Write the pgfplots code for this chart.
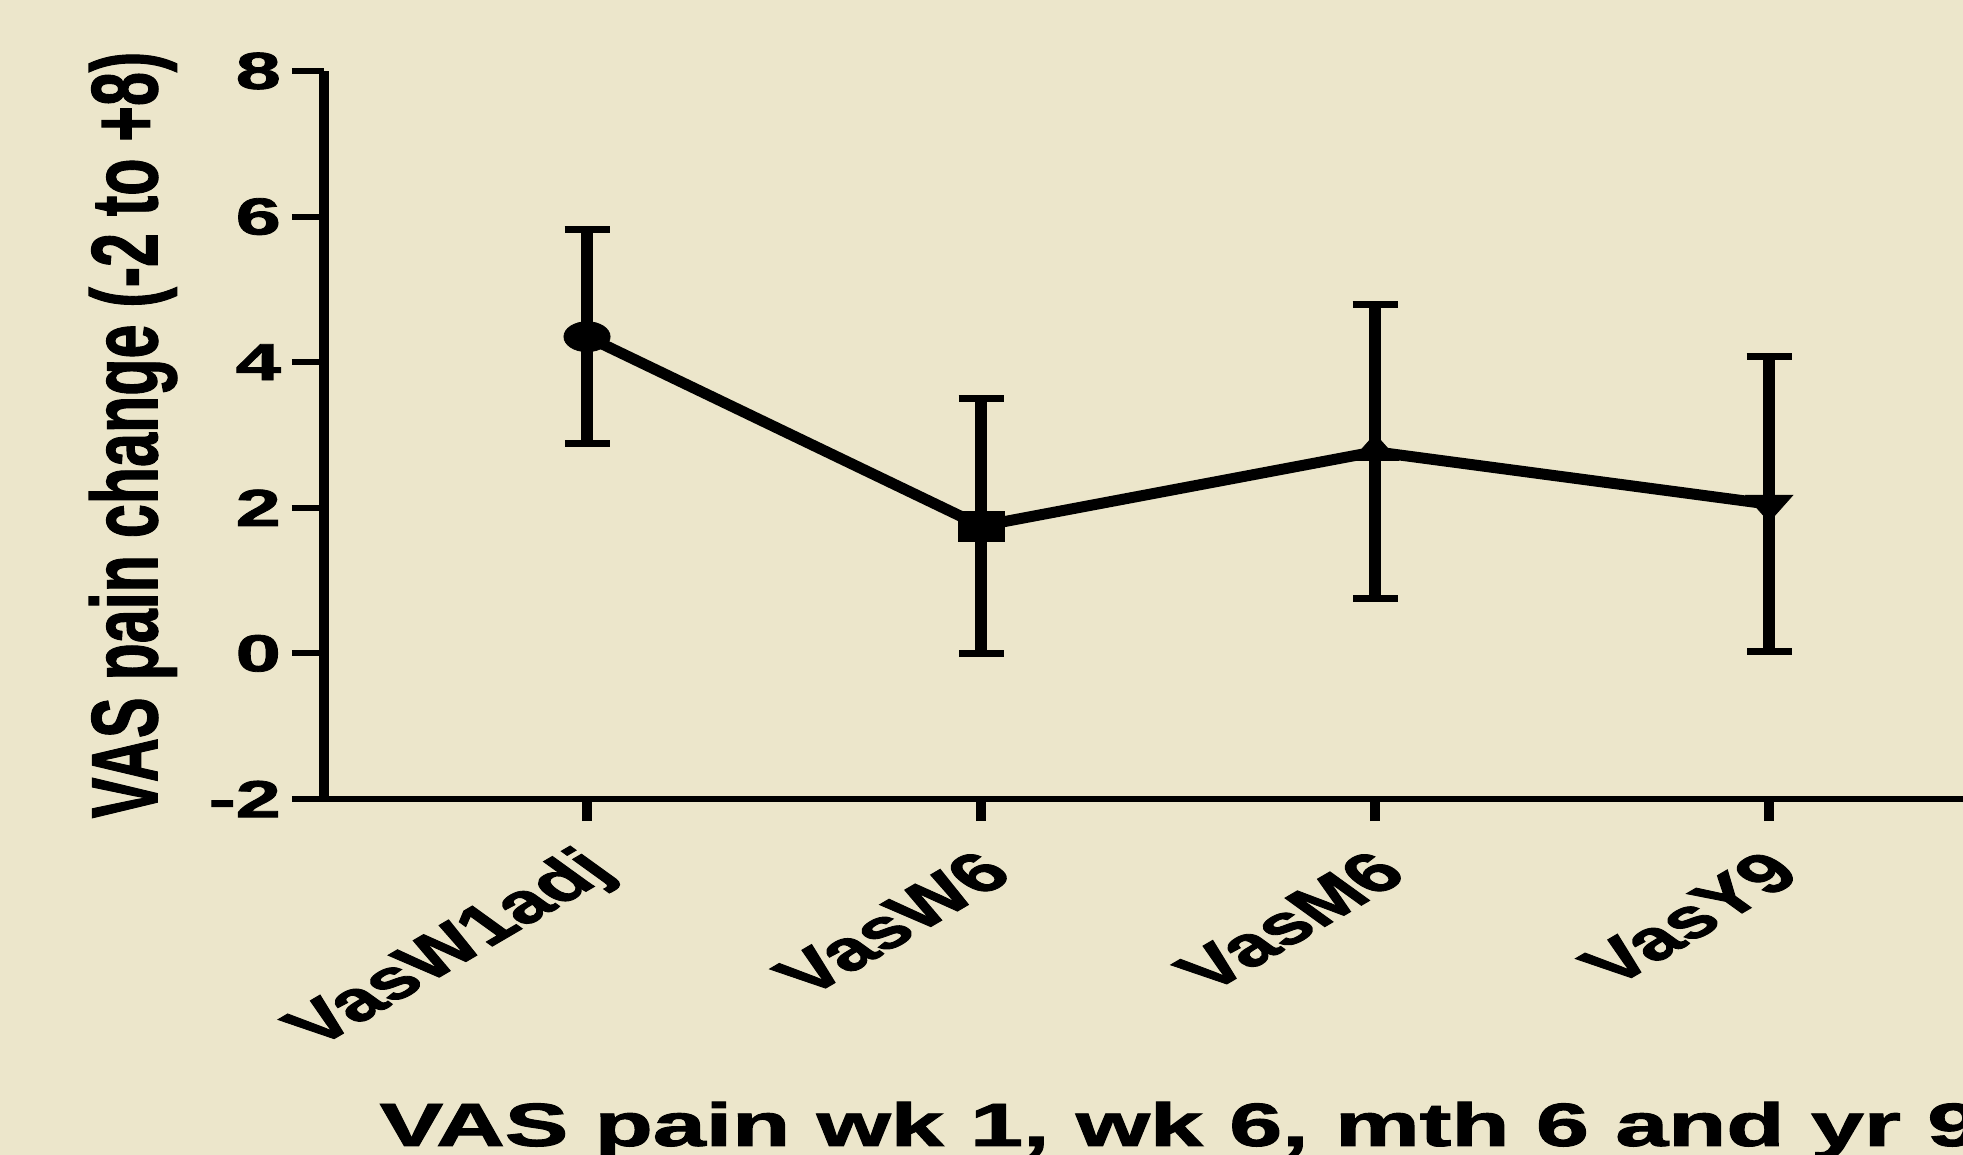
\documentclass[border=0pt]{standalone}
\usepackage{fontspec}
\setmainfont{Liberation Sans}[BoldFeatures={FakeBold=1.5}]
\usepackage{pgfplots}
\pgfplotsset{compat=1.18}
\definecolor{bg}{RGB}{236,230,203}
\pgfplotstableread{
x y e
0 4.35 1.47
1 1.75 1.75
2 2.77 2.02
3 2.05 2.03
}\vasdata
\begin{document}
\begin{tikzpicture}
\path[use as bounding box] (0,0) rectangle (981.5pt,577.5pt);
\fill[bg] (0,0) rectangle (981.5pt,577.5pt);
\clip (0,0) rectangle (981.5pt,577.5pt);
\begin{axis}[
  at={(162pt,178pt)}, anchor=south west,
  scale only axis, width=819.5pt, height=364pt,
  xmin=-0.6675, xmax=3.492, ymin=-2, ymax=8,
  axis lines=left, axis line style={-, black},
  x axis line style={line width=3pt},
  y axis line style={line width=5pt},
  tick align=outside,
  xtick={0,1,2,3},
  xticklabels={VasW1adj,VasW6,VasM6,VasY9},
  ytick={-2,0,2,4,6,8},
  yticklabels={-2,0,2,4,6,8},
  xtick style={line width=5pt, black, /pgfplots/major tick length=11pt},
  ytick style={line width=3pt, black, /pgfplots/major tick length=16pt},
  yticklabel style={font=\fontsize{26}{30}\selectfont\bfseries, anchor=east, inner sep=0pt, xshift=-17pt, cm={1.56,0,0,1,(0,0)}},
  xticklabel style={font=\fontsize{28}{32}\selectfont\bfseries, anchor=east, inner sep=0pt, xshift=7.5pt, yshift=-27.5pt, cm={1.144,0.669,-1.030,0.743,(0,0)}},
  xlabel={VAS pain wk 1, wk 6, mth 6 and yr 9},
  ylabel={VAS pain change (-2 to +8)},
  every axis x label/.style={at={(axis description cs:0.0336,-0.4766)}, anchor=base west, inner sep=0pt, font=\fontsize{30.5}{34}\selectfont\bfseries, cm={1.56,0,0,1,(0,0)}},
  every axis y label/.style={at={(axis description cs:-0.1165,0.5)}, anchor=center, inner sep=0pt, font=\fontsize{30.5}{34}\selectfont\bfseries, cm={0,1,-1.54,0,(0,0)}},
  clip=false,
]
\addplot[black, line width=5.5pt, line join=round, mark=none,
  error bars/.cd, y dir=both, y explicit,
  error bar style={line width=6pt, black},
  error mark=|,
  error mark options={line width=3.5pt, mark size=11.25pt, black}]
  table[x=x, y=y, y error=e] {\vasdata};
\addplot[only marks, mark=*, mark size=7.5pt, mark options={xscale=1.54, fill=black, draw=none}] coordinates {(0,4.35)};
\addplot[only marks, mark=square*, mark size=7.5pt, mark options={xscale=1.54, fill=black, draw=none}] coordinates {(1,1.75)};
\addplot[only marks, mark=triangle*, mark size=8.8pt, mark options={xscale=1.54, fill=black, draw=none}] coordinates {(2,2.77)};
\addplot[only marks, mark=triangle*, mark size=8.8pt, mark options={rotate=180, xscale=1.54, fill=black, draw=none}] coordinates {(3,2.05)};
\end{axis}
\end{tikzpicture}
\end{document}
